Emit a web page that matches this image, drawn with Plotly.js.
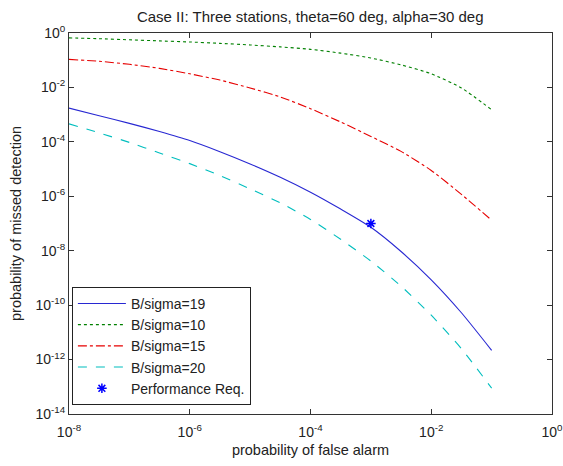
<!DOCTYPE html>
<html>
<head>
<meta charset="utf-8">
<script src="https://cdn.plot.ly/plotly-3.0.1.min.js"></script>
<style>html,body{margin:0;padding:0;background:#fff;}#chart{width:563px;height:466px;}</style>
</head>
<body>
<div id="chart"></div>
<script>
// probability of false alarm (x)
const pfa = [1e-8, 3.16e-8, 1e-7, 3.16e-7, 1e-6, 3.16e-6, 1e-5, 3.16e-5, 1e-4, 3.16e-4, 1e-3, 3.16e-3, 1e-2, 3.16e-2, 1e-1];
// log10 of probability of missed detection for each B/sigma
const logPmd19 = [-2.76, -3.04, -3.32, -3.62, -3.95, -4.36, -4.81, -5.30, -5.85, -6.47, -7.14, -8.03, -9.07, -10.28, -11.66];
const logPmd10 = [-0.18, -0.21, -0.25, -0.29, -0.33, -0.38, -0.44, -0.51, -0.60, -0.74, -0.92, -1.17, -1.50, -2.02, -2.82];
const logPmd15 = [-0.97, -1.04, -1.15, -1.30, -1.50, -1.73, -2.02, -2.35, -2.78, -3.27, -3.80, -4.35, -5.05, -5.93, -6.88];
const logPmd20 = [-3.34, -3.67, -4.02, -4.41, -4.80, -5.24, -5.73, -6.24, -6.85, -7.58, -8.38, -9.30, -10.37, -11.60, -13.05];
// performance requirement point
const reqPfa = [1e-3];
const reqPmd = [1e-7];
// legend names
const names = ['B/sigma=19', 'B/sigma=10', 'B/sigma=15', 'B/sigma=20', 'Performance Req.'];
// tick labels
const xTickVals = [1e-8, 1e-6, 1e-4, 1e-2, 1];
const xTickText = ['10<sup>-8</sup>', '10<sup>-6</sup>', '10<sup>-4</sup>', '10<sup>-2</sup>', '10<sup>0</sup>'];
const yTickVals = [1, 1e-2, 1e-4, 1e-6, 1e-8, 1e-10, 1e-12, 1e-14];
const yTickText = ['10<sup>0</sup>', '10<sup>-2</sup>', '10<sup>-4</sup>', '10<sup>-6</sup>', '10<sup>-8</sup>', '10<sup>-10</sup>', '10<sup>-12</sup>', '10<sup>-14</sup>'];

const pow = a => a.map(v => Math.pow(10, v));
const FONT = 'Liberation Sans, Arial, sans-serif';

const traces = [
  {x: pfa, y: pow(logPmd19), name: names[0], mode: 'lines', line: {color: 'rgb(40,40,210)', width: 1.1, dash: 'solid', shape: 'spline', smoothing: 0.6}},
  {x: pfa, y: pow(logPmd10), name: names[1], mode: 'lines', line: {color: 'rgb(0,128,0)', width: 1.1, dash: 'dot', shape: 'spline', smoothing: 0.6}},
  {x: pfa, y: pow(logPmd15), name: names[2], mode: 'lines', line: {color: 'rgb(230,0,0)', width: 1.1, dash: 'dashdot', shape: 'spline', smoothing: 0.6}},
  {x: pfa, y: pow(logPmd20), name: names[3], mode: 'lines', line: {color: 'rgb(0,190,190)', width: 1.1, dash: 'dash', shape: 'spline', smoothing: 0.6}},
  {x: reqPfa, y: reqPmd, name: names[4], mode: 'markers', marker: {symbol: 'asterisk-open', size: 8, color: 'rgb(0,0,255)', line: {color: 'rgb(0,0,255)', width: 1.5}}}
];

const axisCommon = {
  type: 'log', showgrid: false, zeroline: false, showline: true, linecolor: '#333', linewidth: 1,
  mirror: 'ticks', ticks: 'inside', ticklen: 5, tickcolor: '#333', ticklabeloverflow: 'allow',
  tickfont: {family: FONT, size: 14, color: '#222'}
};

const layout = {
  width: 563, height: 466,
  margin: {l: 69, r: 11, t: 33, b: 52},
  paper_bgcolor: '#fff', plot_bgcolor: '#fff',
  font: {family: FONT, size: 14, color: '#222'},
  title: {text: 'Case II: Three stations, theta=60 deg, alpha=30 deg', font: {family: FONT, size: 15, color: '#222'}, x: 0.551, xanchor: 'center', y: 0.963, yanchor: 'middle'},
  xaxis: Object.assign({}, axisCommon, {
    range: [-8, 0], tickvals: xTickVals, ticktext: xTickText, ticklabelstandoff: 5,
    title: {text: 'probability of false alarm', font: {family: FONT, size: 14.5, color: '#222'}, standoff: 6}
  }),
  yaxis: Object.assign({}, axisCommon, {
    range: [-14, 0], tickvals: yTickVals, ticktext: yTickText,
    title: {text: 'probability of missed detection', font: {family: FONT, size: 14.5, color: '#222'}, standoff: 10}
  }),
  showlegend: true,
  legend: {
    x: 0.006, y: 0.024, xanchor: 'left', yanchor: 'bottom',
    bgcolor: '#fff', bordercolor: '#222', borderwidth: 1,
    font: {family: FONT, size: 14, color: '#222'},
    itemwidth: 48, tracegroupgap: 0
  }
};

Plotly.newPlot('chart', traces, layout, {displayModeBar: false, staticPlot: true});
</script>
</body>
</html>
